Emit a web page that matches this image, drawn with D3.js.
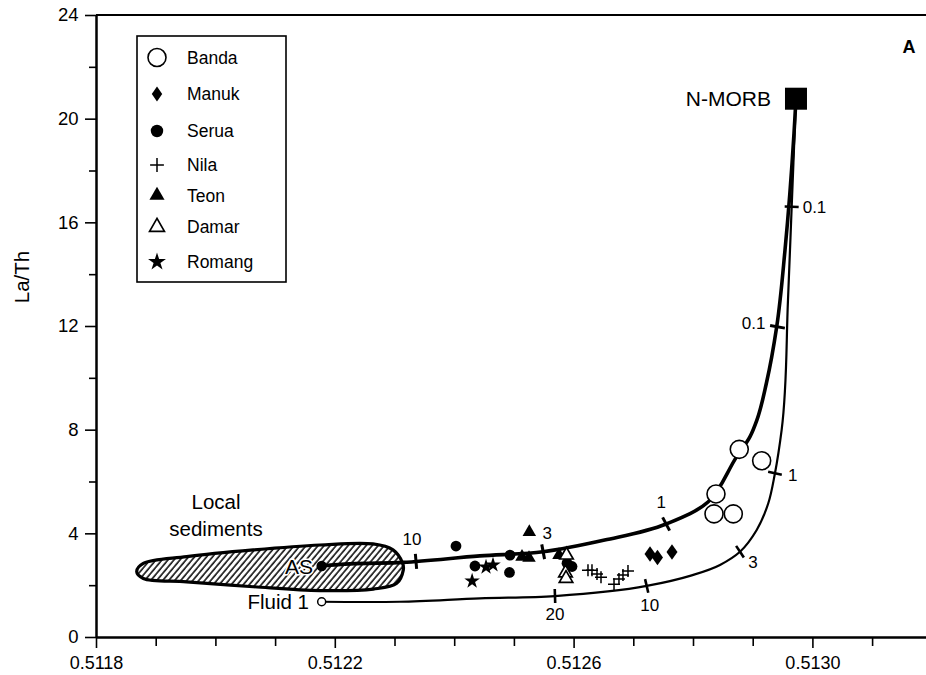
<!DOCTYPE html>
<html>
<head>
<meta charset="utf-8">
<script src="https://cdn.jsdelivr.net/npm/d3@7"></script>
<style>
  body { margin: 0; background: #fff; }
  svg { display: block; }
  text { font-family: "Liberation Sans", Arial, Helvetica, sans-serif; fill: #000; }
</style>
</head>
<body>
<svg id="chart" width="926" height="675"></svg>
<script>
// ---- axis ticks ----
const xMajorTicks = [0.5118, 0.5122, 0.5126, 0.5130];
const xMinorTicks = [0.5119, 0.5120, 0.5121, 0.5123, 0.5124, 0.5125, 0.5127, 0.5128, 0.5129, 0.5131];
const yMajorTicks = [0, 4, 8, 12, 16, 20, 24];
const yMinorTicks = [2, 6, 10, 14, 18, 22];

// ---- samples: [143Nd/144Nd, La/Th] ----
const banda  = [[0.5128775, 7.24], [0.5129150, 6.80], [0.5128385, 5.52], [0.5128352, 4.75], [0.5128675, 4.75]];
const manuk  = [[0.5127280, 3.20], [0.5127405, 3.07], [0.5127648, 3.28]];
const serua  = [[0.5124030, 3.51], [0.5124348, 2.74], [0.5124935, 3.16], [0.5124926, 2.49], [0.5125973, 2.72], [0.5125890, 2.85]];
const nila   = [[0.5126241, 2.58], [0.5126308, 2.58], [0.5126392, 2.43], [0.5126459, 2.31], [0.5126677, 2.04], [0.5126760, 2.24], [0.5126827, 2.39], [0.5126911, 2.55]];
const teon   = [[0.5125258, 4.05], [0.5125136, 3.09], [0.5125253, 3.05], [0.5125755, 3.16]];
const damar  = [[0.5125881, 3.16], [0.5125864, 2.47], [0.5125873, 2.26]];
const romang = [[0.5124300, 2.16], [0.5124533, 2.70], [0.5124650, 2.78]];

// ---- end members ----
const nMorb  = [0.5129725, 20.77];
const asEnd  = [0.512178, 2.74];
const fluid1 = [0.512178, 1.36];

// ---- mixing curves ----
const curveSediment = [
  [0.512178, 2.74], [0.5122255, 2.82], [0.512314, 2.88], [0.512443, 3.13],
  [0.512549, 3.29], [0.5126520, 3.74], [0.512755, 4.36], [0.5128256, 5.22],
  [0.5128732, 6.96], [0.5128955, 7.73], [0.5129070, 8.37], [0.5129230, 9.80], [0.5129402, 11.97],
  [0.5129541, 14.93], [0.5129692, 19.44], [0.5129725, 20.77]
];
const curveFluid = [
  [0.512178, 1.36], [0.512309, 1.36], [0.512443, 1.49], [0.5125688, 1.58], [0.5127224, 1.97],
  [0.5127950, 2.36], [0.5128452, 2.78], [0.5128787, 3.29], [0.5129067, 4.13], [0.5129261, 5.16],
  [0.5129373, 6.32], [0.5129485, 7.99], [0.5129591, 13.00], [0.5129653, 16.60], [0.5129725, 20.77]
];

// proportion marks along the curves
const sedimentMarks = [
  { label: "10",  x: 0.512336,  y: 2.92 },
  { label: "3",   x: 0.512549,  y: 3.29 },
  { label: "1",   x: 0.512755,  y: 4.36 },
  { label: "0.1", x: 0.5129415, y: 11.97 }
];
const fluidMarks = [
  { label: "20",  x: 0.5125688, y: 1.58 },
  { label: "10",  x: 0.5127224, y: 1.97 },
  { label: "3",   x: 0.5128787, y: 3.29 },
  { label: "1",   x: 0.5129373, y: 6.32 },
  { label: "0.1", x: 0.5129653, y: 16.60 }
];

// local sediment field outline
const sedimentField = [
  [0.5118682, 2.52], [0.5118792, 2.84], [0.5119519, 3.10], [0.5120635, 3.36], [0.5121752, 3.55],
  [0.5122640, 3.59], [0.5122975, 3.36], [0.5123137, 2.84], [0.5123147, 2.58], [0.5123037, 2.07],
  [0.5122645, 1.85], [0.5121752, 1.79], [0.5120635, 1.94], [0.5119519, 2.13], [0.5118792, 2.26]
];

// ---- chart setup ----
const svg = d3.select("#chart");
const x = d3.scaleLinear().domain([0.5118, 0.5132]).range([96, 96 + 3.5 * 238.8]);
const y = d3.scaleLinear().domain([0, 24]).range([637, 15]);

// label offsets for the proportion marks
const sedimentLabelPos = [
  { dx: -4, dy: -22, anchor: "middle" },
  { dx: 4,  dy: -19, anchor: "middle" },
  { dx: -5, dy: -22, anchor: "middle" },
  { dx: -12, dy: -4, anchor: "end" }
];
const fluidLabelPos = [
  { dx: 0,  dy: 18, anchor: "middle" },
  { dx: 3,  dy: 19, anchor: "middle" },
  { dx: 13, dy: 10, anchor: "middle" },
  { dx: 13, dy: 2,  anchor: "start" },
  { dx: 11, dy: 0,  anchor: "start" }
];

// hatch pattern for the sediment field
const defs = svg.append("defs");
defs.append("pattern")
  .attr("id", "hatch")
  .attr("patternUnits", "userSpaceOnUse")
  .attr("width", 4.6).attr("height", 4.6)
  .attr("patternTransform", "rotate(40)")
  .append("line")
  .attr("x1", 1).attr("y1", 0).attr("x2", 1).attr("y2", 4.6)
  .attr("stroke", "#000").attr("stroke-width", 1.5);

// ---- axes ----
function styleAxis(g) {
  g.select(".domain").attr("stroke", "#000").attr("stroke-width", 2);
  g.selectAll(".tick line").attr("stroke", "#000").attr("stroke-width", 1.6);
  g.selectAll(".tick text").style("font-size", "18px").attr("fill", "#000");
}
const fmtX = d3.format(".4f");

svg.append("g").attr("transform", "translate(0,637)")
  .call(d3.axisBottom(x).tickValues(xMinorTicks).tickSize(9).tickSizeOuter(0).tickFormat(""))
  .call(styleAxis);
svg.append("g").attr("transform", "translate(0,637)")
  .call(d3.axisBottom(x).tickValues(xMajorTicks).tickSize(11).tickSizeOuter(0).tickPadding(8.5).tickFormat(fmtX))
  .call(styleAxis);

svg.append("g").attr("transform", "translate(96,0)")
  .call(d3.axisLeft(y).tickValues(yMinorTicks).tickSize(7).tickSizeOuter(0).tickFormat(""))
  .call(styleAxis);
svg.append("g").attr("transform", "translate(96,0)")
  .call(d3.axisLeft(y).tickValues(yMajorTicks).tickSize(11).tickSizeOuter(0).tickPadding(6.5))
  .call(styleAxis)
  .call(g => g.selectAll(".tick text").style("font-size", "18.5px"));

// top frame line
svg.append("line")
  .attr("x1", 96).attr("x2", 926).attr("y1", y(24)).attr("y2", y(24))
  .attr("stroke", "#000").attr("stroke-width", 2);

svg.append("text")
  .attr("transform", "translate(29,277) rotate(-90)")
  .attr("text-anchor", "middle")
  .style("font-size", "20.5px")
  .text("La/Th");

svg.append("text")
  .attr("x", 909).attr("y", 53)
  .attr("text-anchor", "middle")
  .style("font-size", "18px").style("font-weight", "bold")
  .text("A");

// ---- sediment field ----
svg.append("path")
  .datum(sedimentField)
  .attr("d", d3.line().x(d => x(d[0])).y(d => y(d[1])).curve(d3.curveCatmullRomClosed.alpha(0.5)))
  .attr("fill", "url(#hatch)")
  .attr("stroke", "#000").attr("stroke-width", 3.2);

svg.append("text")
  .attr("x", 216).attr("y", 509)
  .attr("text-anchor", "middle").style("font-size", "20.5px")
  .text("Local");
svg.append("text")
  .attr("x", 216).attr("y", 536)
  .attr("text-anchor", "middle").style("font-size", "20.5px")
  .text("sediments");

// ---- mixing curves ----
const lineGen = d3.line().x(d => x(d[0])).y(d => y(d[1])).curve(d3.curveCatmullRom.alpha(1));

svg.append("path").datum(curveFluid).attr("d", lineGen)
  .attr("fill", "none").attr("stroke", "#000").attr("stroke-width", 2.2);
svg.append("path").datum(curveSediment).attr("d", lineGen)
  .attr("fill", "none").attr("stroke", "#000").attr("stroke-width", 3.6);

function drawMarks(curve, marks, labelPos, width, len) {
  const pts = curve.map(d => [x(d[0]), y(d[1])]);
  marks.forEach((m, k) => {
    const px = x(m.x), py = y(m.y);
    let best = 0, bestD = Infinity;
    for (let i = 0; i < pts.length - 1; i++) {
      const mx = (pts[i][0] + pts[i + 1][0]) / 2, my = (pts[i][1] + pts[i + 1][1]) / 2;
      const dd = (mx - px) ** 2 + (my - py) ** 2;
      if (dd < bestD) { bestD = dd; best = i; }
    }
    const dx = pts[best + 1][0] - pts[best][0], dy = pts[best + 1][1] - pts[best][1];
    const n = Math.hypot(dx, dy);
    const nx = -dy / n, ny = dx / n;
    svg.append("line")
      .attr("x1", px - nx * len / 2).attr("y1", py - ny * len / 2)
      .attr("x2", px + nx * len / 2).attr("y2", py + ny * len / 2)
      .attr("stroke", "#000").attr("stroke-width", width);
    const lp = labelPos[k];
    svg.append("text")
      .attr("x", px + lp.dx).attr("y", py + lp.dy)
      .attr("dy", "0.35em")
      .attr("text-anchor", lp.anchor)
      .style("font-size", "17px")
      .text(m.label);
  });
}
drawMarks(curveSediment, sedimentMarks, sedimentLabelPos, 3, 15);
drawMarks(curveFluid, fluidMarks, fluidLabelPos, 2.6, 14);

// ---- end members ----
svg.append("rect")
  .attr("x", x(nMorb[0]) - 11).attr("y", y(nMorb[1]) - 11)
  .attr("width", 22).attr("height", 22).attr("fill", "#000");
svg.append("text")
  .attr("x", 771).attr("y", y(nMorb[1])).attr("dy", "0.35em")
  .attr("text-anchor", "end").style("font-size", "21px")
  .text("N-MORB");

svg.append("text")
  .attr("x", 313).attr("y", y(asEnd[1])).attr("dy", "0.36em")
  .attr("text-anchor", "end").style("font-size", "21px")
  .attr("stroke", "#fff").attr("stroke-width", 3).attr("paint-order", "stroke")
  .text("AS");
svg.append("circle")
  .attr("cx", x(asEnd[0])).attr("cy", y(asEnd[1])).attr("r", 5.2).attr("fill", "#000");

svg.append("circle")
  .attr("cx", x(fluid1[0])).attr("cy", y(fluid1[1])).attr("r", 4)
  .attr("fill", "#fff").attr("stroke", "#000").attr("stroke-width", 1.5);
svg.append("text")
  .attr("x", 309).attr("y", y(fluid1[1])).attr("dy", "0.36em")
  .attr("text-anchor", "end").style("font-size", "20.5px")
  .text("Fluid 1");

// ---- symbols ----
function symbolPath(type, s) {
  switch (type) {
    case "diamond": {
      const w = 5.5 * s, h = 7.8 * s;
      return `M0,${-h}L${w},0L0,${h}L${-w},0Z`;
    }
    case "plus": {
      const a = 6 * s;
      return `M${-a},0H${a}M0,${-a}V${a}`;
    }
    case "tri": case "openTri": {
      const side = 13.5 * s, hh = side * Math.sqrt(3) / 2;
      return `M0,${-2 * hh / 3}L${side / 2},${hh / 3}L${-side / 2},${hh / 3}Z`;
    }
    case "star":
      return d3.symbol(d3.symbolStar, 75 * s * s)();
  }
  return null;
}
function drawSymbol(g, type, cx, cy, s) {
  if (type === "openCircle") {
    g.append("circle").attr("cx", cx).attr("cy", cy).attr("r", 9 * s)
      .attr("fill", "#fff").attr("stroke", "#000").attr("stroke-width", 1.6);
  } else if (type === "dot") {
    g.append("circle").attr("cx", cx).attr("cy", cy).attr("r", 5.4 * s).attr("fill", "#000");
  } else if (type === "plus") {
    g.append("path").attr("d", symbolPath(type, s)).attr("transform", `translate(${cx},${cy})`)
      .attr("fill", "none").attr("stroke", "#000").attr("stroke-width", 1.5);
  } else if (type === "openTri") {
    g.append("path").attr("d", symbolPath(type, s)).attr("transform", `translate(${cx},${cy})`)
      .attr("fill", "#fff").attr("stroke", "#000").attr("stroke-width", 1.7);
  } else {
    g.append("path").attr("d", symbolPath(type, s)).attr("transform", `translate(${cx},${cy})`)
      .attr("fill", "#000");
  }
}

const groups = [
  { name: "Banda",  symbol: "openCircle", values: banda },
  { name: "Manuk",  symbol: "diamond",    values: manuk },
  { name: "Serua",  symbol: "dot",        values: serua },
  { name: "Nila",   symbol: "plus",       values: nila },
  { name: "Teon",   symbol: "tri",        values: teon },
  { name: "Damar",  symbol: "openTri",    values: damar },
  { name: "Romang", symbol: "star",       values: romang }
];

const pointLayer = svg.append("g");
const drawOrder = ["Serua", "Romang", "Teon", "Nila", "Manuk", "Damar", "Banda"];
drawOrder.forEach(nm => {
  const grp = groups.find(g => g.name === nm);
  grp.values.forEach(v => drawSymbol(pointLayer, grp.symbol, x(v[0]), y(v[1]), 1));
});

// ---- legend ----
const legend = svg.append("g");
legend.append("rect")
  .attr("x", 137).attr("y", 36).attr("width", 149).attr("height", 246)
  .attr("fill", "#fff").attr("stroke", "#000").attr("stroke-width", 1.6);
const legendRows = [57.5, 94, 131, 165, 195.5, 227, 262];
const legendScale = { openCircle: 1, diamond: 0.95, dot: 1.15, plus: 1.15, tri: 1.12, openTri: 1.1, star: 1.15 };
groups.forEach((g, i) => {
  drawSymbol(legend, g.symbol, 157, legendRows[i], legendScale[g.symbol]);
  legend.append("text")
    .attr("x", 187).attr("y", legendRows[i]).attr("dy", "0.36em")
    .style("font-size", "17.5px")
    .text(g.name);
});
</script>
</body>
</html>
